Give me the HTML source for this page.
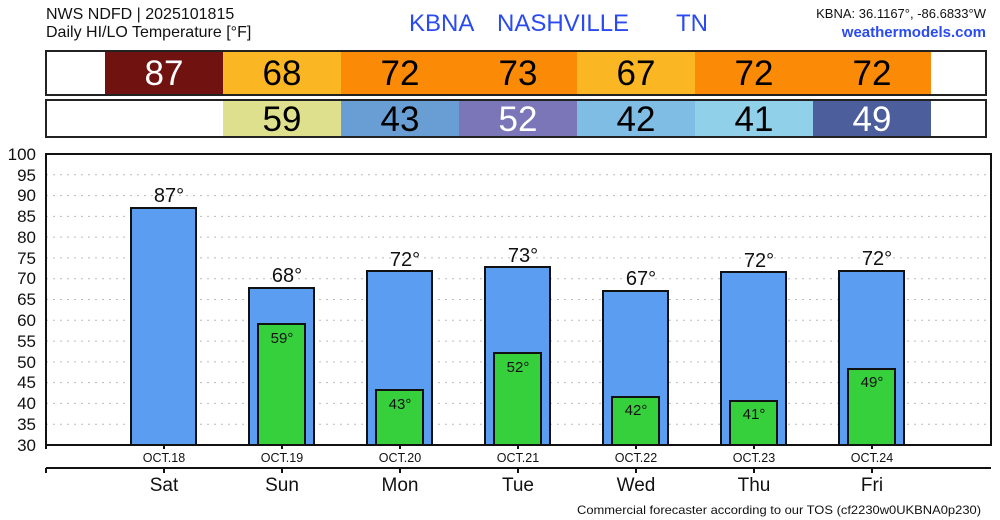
<!DOCTYPE html>
<html><head><meta charset="utf-8"><style>
body{margin:0;background:#fff;width:1000px;height:520px;overflow:hidden}
svg{display:block;font-family:"Liberation Sans","DejaVu Sans",sans-serif}
</style></head><body>
<svg width="1000" height="520" xmlns="http://www.w3.org/2000/svg">
<text x="46" y="19" font-size="16" fill="#111">NWS NDFD | 2025101815</text>
<text x="46" y="37" font-size="16" fill="#111">Daily HI/LO Temperature [°F]</text>
<text x="409" y="31" font-size="24" fill="#2a4bf0">KBNA</text>
<text x="497" y="31" font-size="24" fill="#2a4bf0">NASHVILLE</text>
<text x="676" y="31" font-size="24" fill="#2a4bf0">TN</text>
<text x="986" y="18" font-size="13" fill="#111" text-anchor="end">KBNA: 36.1167°, -86.6833°W</text>
<text x="986" y="37" font-size="15" font-weight="bold" fill="#2a4bf0" text-anchor="end">weathermodels.com</text>
<!-- HI row -->
<g font-size="35" text-anchor="middle">
<rect x="46" y="51" width="940" height="44" fill="#fff"/>
<rect x="105" y="51" width="118" height="44" fill="#6f1210"/>
<rect x="223" y="51" width="118" height="44" fill="#fbb623"/>
<rect x="341" y="51" width="118" height="44" fill="#fb8a06"/>
<rect x="459" y="51" width="118" height="44" fill="#fb8a06"/>
<rect x="577" y="51" width="118" height="44" fill="#fbb623"/>
<rect x="695" y="51" width="118" height="44" fill="#fb8a06"/>
<rect x="813" y="51" width="118" height="44" fill="#fb8a06"/>
<rect x="46" y="51" width="940" height="44" fill="none" stroke="#222" stroke-width="2"/>
<text x="164" y="85" fill="#fff">87</text>
<text x="282" y="85">68</text><text x="400" y="85">72</text><text x="518" y="85">73</text>
<text x="636" y="85">67</text><text x="754" y="85">72</text><text x="872" y="85">72</text>
<rect x="223" y="100" width="118" height="37" fill="#dfe08e"/>
<rect x="341" y="100" width="118" height="37" fill="#689ed4"/>
<rect x="459" y="100" width="118" height="37" fill="#7a76b8"/>
<rect x="577" y="100" width="118" height="37" fill="#7fbde4"/>
<rect x="695" y="100" width="118" height="37" fill="#90d0e8"/>
<rect x="813" y="100" width="118" height="37" fill="#4c5e9c"/>
<rect x="46" y="100" width="940" height="37" fill="none" stroke="#222" stroke-width="2"/>
<text x="282" y="131">59</text><text x="400" y="131">43</text><text x="518" y="131" fill="#fff">52</text>
<text x="636" y="131">42</text><text x="754" y="131">41</text><text x="872" y="131" fill="#fff">49</text>
</g>
<!-- grid -->
<g stroke="#bbb" stroke-width="1" stroke-dasharray="2,5">
<line x1="46" x2="991" y1="424.2" y2="424.2"/><line x1="46" x2="991" y1="403.4" y2="403.4"/>
<line x1="46" x2="991" y1="382.6" y2="382.6"/><line x1="46" x2="991" y1="361.9" y2="361.9"/>
<line x1="46" x2="991" y1="341.1" y2="341.1"/><line x1="46" x2="991" y1="320.3" y2="320.3"/>
<line x1="46" x2="991" y1="299.5" y2="299.5"/><line x1="46" x2="991" y1="278.7" y2="278.7"/>
<line x1="46" x2="991" y1="257.9" y2="257.9"/><line x1="46" x2="991" y1="237.1" y2="237.1"/>
<line x1="46" x2="991" y1="216.4" y2="216.4"/><line x1="46" x2="991" y1="195.6" y2="195.6"/>
<line x1="46" x2="991" y1="174.8" y2="174.8"/>
</g>
<g font-size="17" text-anchor="end" fill="#111">
<text x="36" y="451">30</text><text x="36" y="430">35</text><text x="36" y="409">40</text>
<text x="36" y="388">45</text><text x="36" y="368">50</text><text x="36" y="347">55</text>
<text x="36" y="326">60</text><text x="36" y="305">65</text><text x="36" y="284">70</text>
<text x="36" y="264">75</text><text x="36" y="243">80</text><text x="36" y="222">85</text>
<text x="36" y="201">90</text><text x="36" y="181">95</text><text x="36" y="160">100</text>
</g>
<!-- bars -->
<g stroke="#111" stroke-width="2" fill="#5b9df0">
<rect x="131" y="208" width="65" height="237"/>
<rect x="249" y="288" width="65" height="157"/>
<rect x="367" y="271" width="65" height="174"/>
<rect x="485" y="267" width="65" height="178"/>
<rect x="603" y="291" width="65" height="154"/>
<rect x="721" y="272" width="65" height="173"/>
<rect x="839" y="271" width="65" height="174"/>
</g>
<g stroke="#111" stroke-width="2" fill="#36d03c">
<rect x="258" y="324" width="47" height="121"/>
<rect x="376" y="390" width="47" height="55"/>
<rect x="494" y="353" width="47" height="92"/>
<rect x="612" y="397" width="47" height="48"/>
<rect x="730" y="401" width="47" height="44"/>
<rect x="848" y="369" width="47" height="76"/>
</g>
<g font-size="20" text-anchor="middle" fill="#111">
<text x="169" y="202">87°</text><text x="287" y="282">68°</text><text x="405" y="266">72°</text>
<text x="523" y="262">73°</text><text x="641" y="285">67°</text><text x="759" y="267">72°</text><text x="877" y="265">72°</text>
</g>
<g font-size="15" text-anchor="middle" fill="#111">
<text x="282" y="343">59°</text><text x="400" y="409">43°</text><text x="518" y="372">52°</text>
<text x="636" y="415">42°</text><text x="754" y="419">41°</text><text x="872" y="387">49°</text>
</g>
<!-- frame -->
<rect x="46" y="154" width="945" height="291" fill="none" stroke="#111" stroke-width="2"/>
<g stroke="#111" stroke-width="2">
<line x1="46" x2="991" y1="468" y2="468"/>
<line x1="46" x2="46" y1="445" y2="449"/><line x1="164" x2="164" y1="445" y2="449"/>
<line x1="282" x2="282" y1="445" y2="449"/><line x1="400" x2="400" y1="445" y2="449"/>
<line x1="518" x2="518" y1="445" y2="449"/><line x1="636" x2="636" y1="445" y2="449"/>
<line x1="754" x2="754" y1="445" y2="449"/><line x1="872" x2="872" y1="445" y2="449"/>
<line x1="46" x2="46" y1="468" y2="473"/><line x1="164" x2="164" y1="468" y2="473"/>
<line x1="282" x2="282" y1="468" y2="473"/><line x1="400" x2="400" y1="468" y2="473"/>
<line x1="518" x2="518" y1="468" y2="473"/><line x1="636" x2="636" y1="468" y2="473"/>
<line x1="754" x2="754" y1="468" y2="473"/><line x1="872" x2="872" y1="468" y2="473"/>
</g>
<g font-size="12.5" text-anchor="middle" fill="#111">
<text x="164" y="462">OCT.18</text><text x="282" y="462">OCT.19</text><text x="400" y="462">OCT.20</text>
<text x="518" y="462">OCT.21</text><text x="636" y="462">OCT.22</text><text x="754" y="462">OCT.23</text><text x="872" y="462">OCT.24</text>
</g>
<g font-size="19" text-anchor="middle" fill="#111">
<text x="164" y="491">Sat</text><text x="282" y="491">Sun</text><text x="400" y="491">Mon</text>
<text x="518" y="491">Tue</text><text x="636" y="491">Wed</text><text x="754" y="491">Thu</text><text x="872" y="491">Fri</text>
</g>
<text x="577" y="514" font-size="12" fill="#111" textLength="404" lengthAdjust="spacingAndGlyphs">Commercial forecaster according to our TOS (cf2230w0UKBNA0p230)</text>
</svg>
</body></html>
